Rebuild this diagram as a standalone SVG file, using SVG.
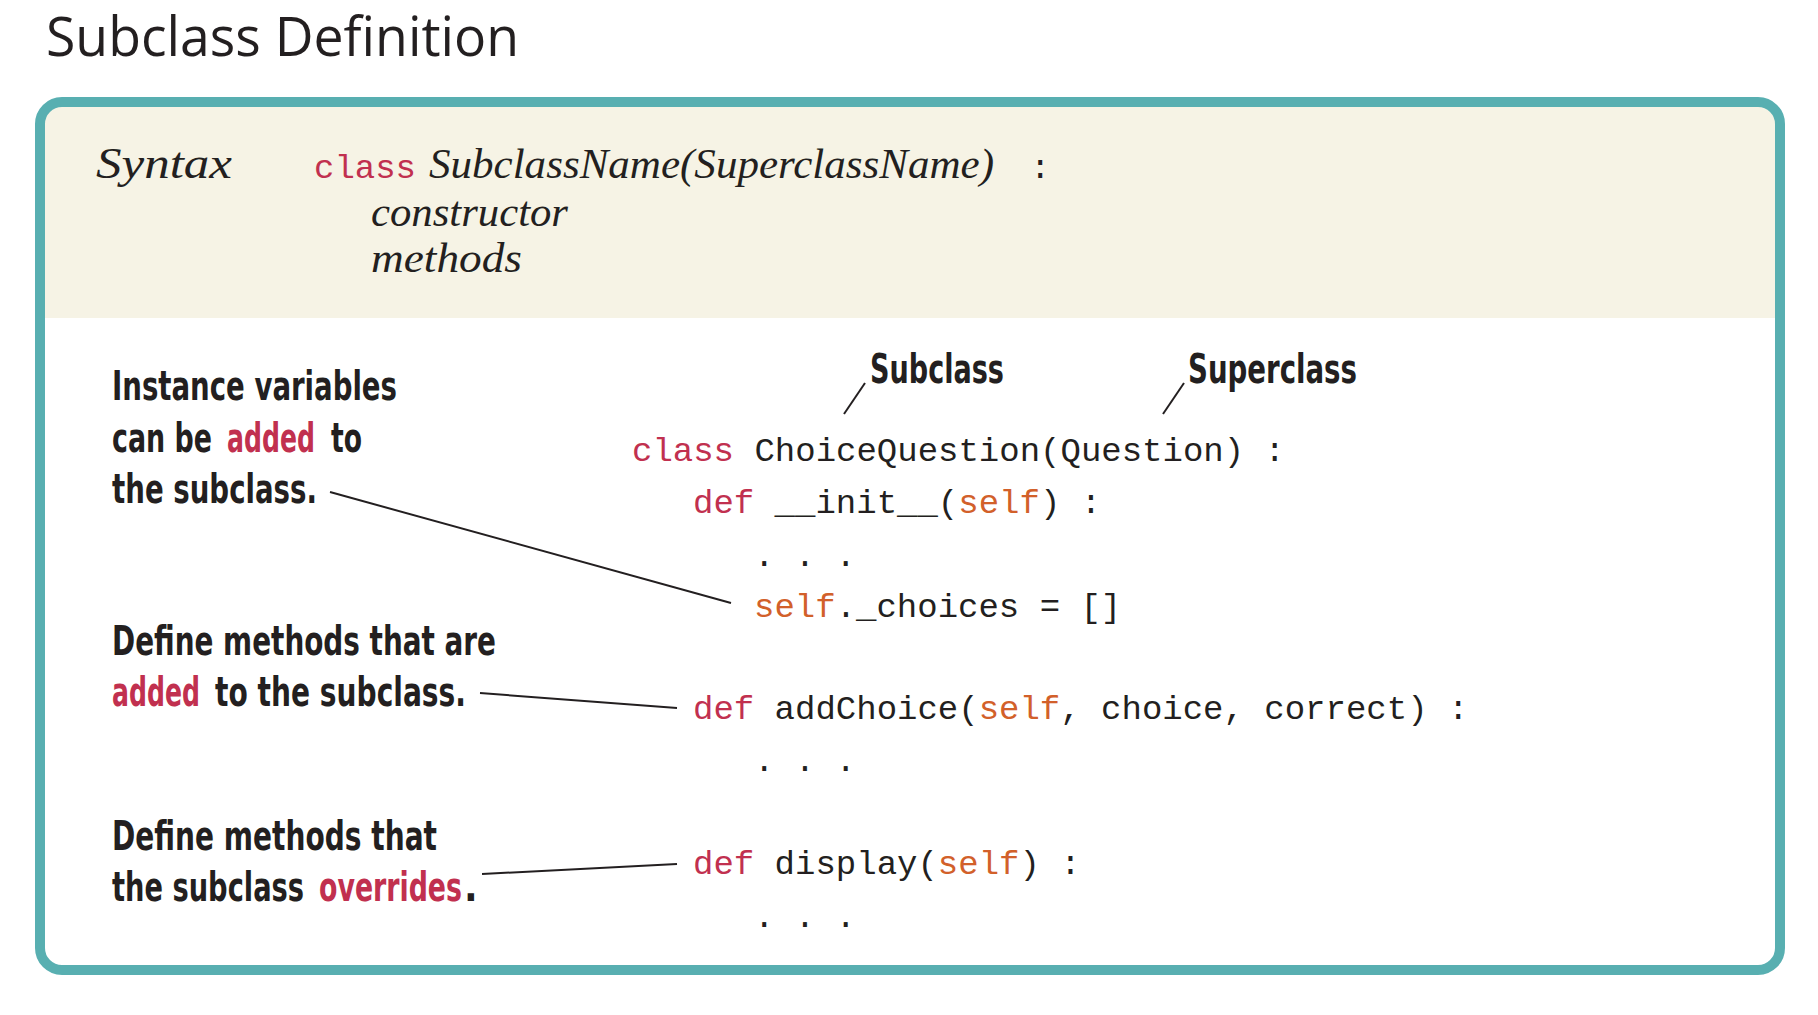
<svg xmlns="http://www.w3.org/2000/svg" width="1818" height="1015" viewBox="0 0 1818 1015">
<style>
.title{font-family:"Open Sans","Noto Sans",sans-serif;font-size:54px;fill:#231F20}
.ital{font-family:"Liberation Serif",serif;font-style:italic;fill:#231F20}
.code{font-family:"Liberation Mono",monospace;font-size:34px;fill:#231F20}
.kw{fill:#C1304F}
.slf{fill:#D2602A}
.hand{font-family:"Liberation Sans Narrow","DejaVu Sans Condensed",sans-serif;font-weight:bold;font-size:40px;fill:#231F20}
.red{fill:#C1304F}
.conn{stroke:#231F20;stroke-width:2;fill:none}
</style>
<rect width="1818" height="1015" fill="#FFFFFF"/>
<text class="title" x="46" y="56" textLength="473" lengthAdjust="spacingAndGlyphs">Subclass Definition</text>
<g id="frame">
<path d="M40,318 V124 Q40,102 62,102 H1758 Q1780,102 1780,124 V318 Z" fill="#F6F3E5"/>
<rect x="40" y="102" width="1740" height="868" rx="22" ry="22" fill="none" stroke="#58AFB1" stroke-width="10"/>
</g>
<g id="syntax">
<text class="ital" x="96" y="178" font-size="44" textLength="136" lengthAdjust="spacingAndGlyphs">Syntax</text>
<text class="code kw" x="314" y="178" font-size="33">class</text>
<text class="ital" x="429" y="178" font-size="42" textLength="565" lengthAdjust="spacingAndGlyphs">SubclassName(SuperclassName)</text>
<text class="code" x="1030" y="178" font-size="33">:</text>
<text class="ital" x="371" y="226" font-size="42" textLength="197" lengthAdjust="spacingAndGlyphs">constructor</text>
<text class="ital" x="371" y="272" font-size="42" textLength="151" lengthAdjust="spacingAndGlyphs">methods</text>
</g>
<g id="code">
<text class="code" x="632" y="461"><tspan class="kw">class</tspan> ChoiceQuestion(Question) :</text>
<text class="code" x="693" y="513"><tspan class="kw">def</tspan> __init__(<tspan class="slf">self</tspan>) :</text>
<text class="code" x="754" y="566">. . .</text>
<text class="code" x="754" y="617"><tspan class="slf">self</tspan>._choices = []</text>
<text class="code" x="693" y="719"><tspan class="kw">def</tspan> addChoice(<tspan class="slf">self</tspan>, choice, correct) :</text>
<text class="code" x="754" y="771">. . .</text>
<text class="code" x="693" y="874"><tspan class="kw">def</tspan> display(<tspan class="slf">self</tspan>) :</text>
<text class="code" x="754" y="927">. . .</text>
</g>
<g id="label-subclass">
<text class="hand" x="870" y="383" textLength="134" lengthAdjust="spacingAndGlyphs">Subclass</text>
</g>
<g id="label-superclass">
<text class="hand" x="1188" y="383" textLength="169" lengthAdjust="spacingAndGlyphs">Superclass</text>
</g>
<g id="note-instance">
<text class="hand" x="112" y="400" textLength="285" lengthAdjust="spacingAndGlyphs">Instance variables</text>
<text class="hand" x="112" y="452" textLength="100" lengthAdjust="spacingAndGlyphs">can be</text>
<text class="hand red" x="227" y="452" textLength="88" lengthAdjust="spacingAndGlyphs">added</text>
<text class="hand" x="331" y="452" textLength="31" lengthAdjust="spacingAndGlyphs">to</text>
<text class="hand" x="112" y="503" textLength="205" lengthAdjust="spacingAndGlyphs">the subclass.</text>
</g>
<g id="note-added">
<text class="hand" x="112" y="655" textLength="384" lengthAdjust="spacingAndGlyphs">Define methods that are</text>
<text class="hand red" x="112" y="706" textLength="88" lengthAdjust="spacingAndGlyphs">added</text>
<text class="hand" x="215" y="706" textLength="251" lengthAdjust="spacingAndGlyphs">to the subclass.</text>
</g>
<g id="note-override">
<text class="hand" x="112" y="850" textLength="325" lengthAdjust="spacingAndGlyphs">Define methods that</text>
<text class="hand" x="112" y="901" textLength="192" lengthAdjust="spacingAndGlyphs">the subclass</text>
<text class="hand red" x="319" y="901" textLength="143" lengthAdjust="spacingAndGlyphs">overrides</text>
<text class="hand" x="464" y="901">.</text>
</g>
<g id="connectors">
<line class="conn" x1="844" y1="414" x2="865" y2="383"/>
<line class="conn" x1="1163" y1="414" x2="1184" y2="383"/>
<line class="conn" x1="330" y1="492" x2="731" y2="603"/>
<line class="conn" x1="480" y1="693" x2="677" y2="708"/>
<line class="conn" x1="482" y1="874" x2="677" y2="864"/>
</g>
</svg>
